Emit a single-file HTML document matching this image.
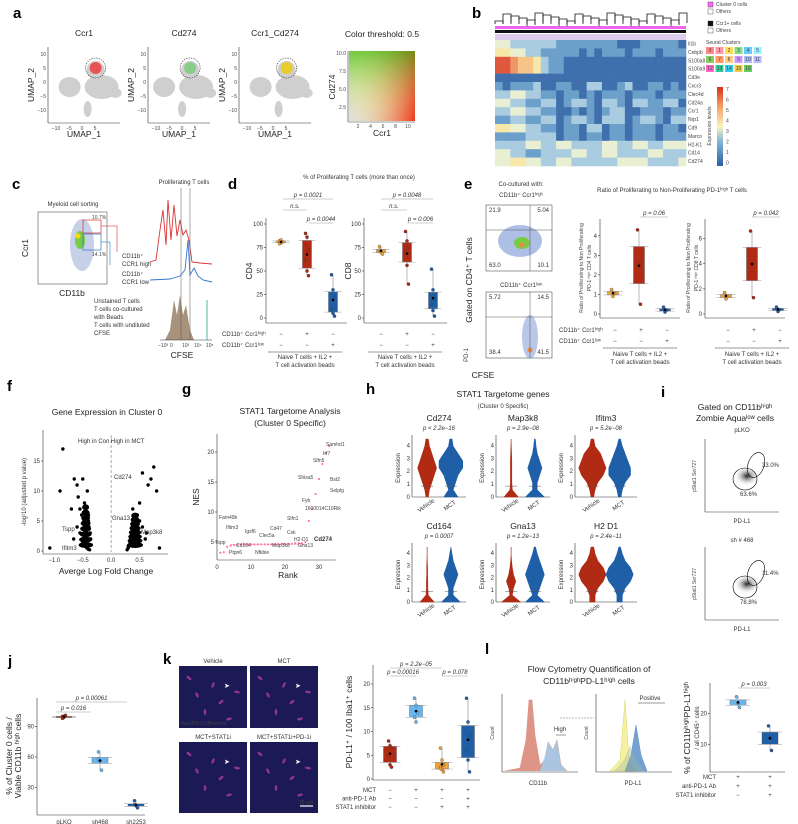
<!DOCTYPE html>
<html><head><meta charset="utf-8"><style>
body{margin:0;background:#fff;}
svg{display:block;font-family:"Liberation Sans",sans-serif;}
.pl{font-size:15px;font-weight:bold;}
.t{font-size:8.5px;fill:#222;}
.s{font-size:6px;fill:#333;}
.xs{font-size:5px;fill:#444;}
</style></head><body>
<svg id="fig" width="798" height="824" viewBox="0 0 798 824" xmlns="http://www.w3.org/2000/svg">
<defs>
<linearGradient id="gg" x1="0" y1="1" x2="1" y2="0"><stop offset="0" stop-color="#ddd"/><stop offset="1" stop-color="#f0e000"/></linearGradient>
<linearGradient id="gx" x1="0" y1="0" x2="1" y2="0"><stop offset="0" stop-color="#fff" stop-opacity="0"/><stop offset="1" stop-color="#e00" stop-opacity="1"/></linearGradient>
<linearGradient id="gy" x1="0" y1="1" x2="0" y2="0"><stop offset="0" stop-color="#fff" stop-opacity="0"/><stop offset="1" stop-color="#2b2" stop-opacity="1"/></linearGradient>
<linearGradient id="cb" x1="0" y1="1" x2="0" y2="0"><stop offset="0" stop-color="#2d5fa8"/><stop offset=".3" stop-color="#7fb3d5"/><stop offset=".5" stop-color="#f7f3c0"/><stop offset=".75" stop-color="#f4a261"/><stop offset="1" stop-color="#d7301f"/></linearGradient>
<radialGradient id="blob"><stop offset="0" stop-color="#222"/><stop offset="1" stop-color="#fff" stop-opacity="0"/></radialGradient>
</defs>
<g id="labels">
<text class="pl" x="13" y="18">a</text><text class="pl" x="472" y="18">b</text>
<text class="pl" x="12" y="189">c</text><text class="pl" x="228" y="189">d</text><text class="pl" x="464" y="189">e</text>
<text class="pl" x="7" y="391">f</text><text class="pl" x="182" y="394">g</text><text class="pl" x="366" y="394">h</text><text class="pl" x="661" y="397">i</text>
<text class="pl" x="8" y="666">j</text><text class="pl" x="163" y="664">k</text><text class="pl" x="485" y="654">l</text>
</g>
<g id="root"></g>
</svg>
<script>
const svg=document.getElementById('root');
const NS='http://www.w3.org/2000/svg';
function mk(tag,attrs,name,parent){const e=document.createElementNS(NS,tag);for(const k in attrs)e.setAttribute(k,attrs[k]);


(parent||svg).appendChild(e);return e;}
function tx(x,y,s,cls,name,extra){const e=mk('text',Object.assign({x:x,y:y,class:cls||'s'},extra||{}),name);e.textContent=s;return e;}
function ln(x1,y1,x2,y2,c,w,name){return mk('line',{x1,y1,x2,y2,stroke:c||'#333','stroke-width':w||0.6},name||'axis-line');}
function lin(d0,d1,r0,r1){return v=>r0+(v-d0)/(d1-d0)*(r1-r0);}

/* ---------- DATA ---------- */
const umapTitles=['Ccr1','Cd274','Ccr1_Cd274'];
const heatGenes=['Il1b','Cebpb','S100a8','S100a9','Cd3e','Cxcr3','Clec4d','Cd24a','Ccr1','Nrp1','Cd9','Marco','H2-K1','Cd14','Cd274'];
const heatRows=['3322222211111111000111110','4433221111101011101110111','7765542110000000000000000','7765542110000000000000000','0000000000000000000000000','1011120011002200120011010','2233221101101011101110111','3322112201221022102211220','2233221100101012200111011','1122112201221022201221022','4433221101102201101110110','1111222201101101101110111','2222332233222233223322333','3322112222332233222233222','3344332233222222333322223'];
const cd4Groups=[[82,80,81,79,83],[90,86,72,62,50,45],[46,30,22,10,5,2]];
const cd8Groups=[[76,70,68,72],[92,82,75,70,56,36],[52,30,20,15,8,2]];
const eCd4Groups=[[1.25,0.9,1.05],[4.3,2.6,0.5],[0.35,0.1,0.2]];
const eCd8Groups=[[1.7,1.2,1.4],[6.6,4.0,1.3],[0.55,0.2,0.35]];
const jGroups=[[100,99,101,98,100],[65,56,47,58],[17,12,10,13]];
const jCats=['pLKO','sh468','sh2253'];
const kGroups=[[8,7,6.5,5,3,2.5],[17,15.5,14,13,12],[6.5,4,3,2.5,2,1.5,2.2],[17,12,9,6,4,1.5]];
const lGroups=[[25.5,23.5,22],[16,12,8]];
const volcX=[-1.08,-0.85,-0.65,-0.6,-0.58,-0.55,-0.52,-0.5,-0.48,-0.47,-0.45,-0.44,-0.42,-0.4,-0.39,-0.38,-0.37,-0.36,-0.35,-0.6,-0.55,-0.5,-0.45,-0.42,-0.4,-0.5,-0.46,-0.43,-0.4,-0.38,-0.9,-0.7,-0.66,0.28,0.3,0.32,0.34,0.35,0.37,0.39,0.4,0.42,0.44,0.46,0.5,0.55,0.6,0.62,0.3,0.33,0.36,0.4,0.45,0.5,0.38,0.42,0.7,0.75,0.8,0.85,0.55,0.65];
const volcY=[0.5,17,12,11,9,7,6,12,5,8,4,3,2,6,4,1,3,2,1,4,3,2,1,10,5,1.5,0.8,0.5,0.3,0.2,10,7,2,0.2,0.5,1,2,3,4,5,2,1,3,6,8,4,2,3,0.8,1.5,2.5,1,4,5,7,2,12,14,10,0.5,13,11];
const gseaRank=[1,2,3,4,5,6,7,8,9,10,11,12,13,14,15,16,17,18,19,20,21,22,23,24,25,26,27,28,29,30,31,32,33];
const gseaNES=[3.2,3.3,4.2,4.4,4.5,4.5,4.6,4.6,4.6,4.6,4.6,4.6,4.6,4.6,4.6,4.6,4.6,4.7,4.7,4.7,4.7,4.7,4.8,4.8,4.8,5,8.5,10.5,13,15.5,18,19.8,21];
const violinNames=['Cd274','Map3k8','Ifitm3','Cd164','Gna13','H2  D1'];
const violinP=['p < 2.2e−16','p = 2.9e−08','p = 5.2e−08','p = 0.0007','p = 1.2e−13','p = 2.4e−11'];
const violinVeh=[[.5,1,2,3,4,3,2,1,.5],[3,.5,.3,.3,.3,.3,.2,.1,0],[.5,1,2,4,5,4,3,1,.5],[3,.5,.3,.3,.2,.2,.1,0,0],[4,.5,1,2,1,.5,.2,0,0],[1,1,2,4,5,4,2,1,.5]];
const violinMct=[[3,1,2,3,5,5,3,1,.5],[4,1,1,2,3,2,1,.5,.2],[.5,1,2,4,4,3,2,1,.3],[4,1,1,2,3,2,1,.5,0],[4,1,2,3,4,3,2,1,.3],[1,1,2,4,5,4,2,1,.3]];

/* ---------- a: UMAP ---------- */
const umapX=[48,148,239];
umapTitles.forEach((t,i)=>{
 const x0=umapX[i],y0=47,w=[72,62,72][i],h=76;
 tx(x0+w/2+(i==1?5:0),36,t,'t','umap-title',{'text-anchor':'middle'});
 ln(x0,y0,x0,y0+h);ln(x0,y0+h,x0+w,y0+h);
 const cx=x0+w*0.55;
 mk('ellipse',{cx:cx-18,cy:y0+40,rx:11,ry:10,fill:'#cfcfcf'},'umap-cluster');
 mk('ellipse',{cx:cx+14,cy:y0+40,rx:17,ry:12,fill:'#cfcfcf'},'umap-cluster');
 mk('ellipse',{cx:cx+8,cy:y0+23,rx:9,ry:9,fill:'#cfcfcf'},'umap-cluster');
 mk('ellipse',{cx:cx+28,cy:y0+46,rx:6,ry:5,fill:'#cfcfcf'},'umap-cluster');
 mk('ellipse',{cx:cx,cy:y0+62,rx:4,ry:8,fill:'#cfcfcf'},'umap-cluster');
 const col=['#e33','#7c7','#ec0'][i];
 mk('circle',{cx:cx+8,cy:y0+21,r:6,fill:col,opacity:.8},'umap-highlight');
 mk('circle',{cx:cx+8,cy:y0+21,r:10,fill:'none',stroke:'#333','stroke-dasharray':'1.5,1','stroke-width':.6},'umap-circle');
 ['−10','−5','0','5'].forEach((v,j)=>tx(x0+8+j*13,y0+h+7,v,'xs','x-tick',{'text-anchor':'middle'}));
 ['10','5','0','−5','−10'].forEach((v,j)=>tx(x0-2,y0+9+j*14,v,'xs','y-tick',{'text-anchor':'end'}));
 tx(x0+w/2,y0+h+14,'UMAP_1','t','x-axis-title',{'text-anchor':'middle'});
 tx(x0-14,y0+h/2,'UMAP_2','t','y-axis-title',{'text-anchor':'middle',transform:`rotate(-90 ${x0-14} ${y0+h/2})`});
});
tx(382,37,'Color threshold: 0.5','t','threshold-title',{'text-anchor':'middle'});
mk('rect',{x:349,y:51,width:66,height:70,fill:'url(#gg)'},'threshold-square');
mk('rect',{x:349,y:51,width:66,height:70,fill:'url(#gx)',opacity:.75},'threshold-red');
mk('rect',{x:349,y:51,width:66,height:70,fill:'url(#gy)',opacity:.6},'threshold-green');
ln(348,51,348,122);ln(348,122,415,122);
tx(382,136,'Ccr1','t','x-axis-title',{'text-anchor':'middle'});
tx(335,87,'Cd274','t','y-axis-title',{'text-anchor':'middle',transform:'rotate(-90 335 87)'});
['2','4','6','8','10'].forEach((v,j)=>tx(358+j*12.5,128,v,'xs','x-tick',{'text-anchor':'middle'}));
['10.0','7.5','5.0','2.5'].forEach((v,j)=>tx(346,55+j*18,v,'xs','y-tick',{'text-anchor':'end'}));

/* ---------- b: heatmap ---------- */
const hcol=['#3f6fad','#6d9fcb','#a9cce0','#e9efd2','#f7e7a8','#f6c487','#ef9666','#e0573e'];
const hx=lin(0,25,495,686),hy=lin(0,heatGenes.length,40,166);
for(let i=0;i<24;i++){mk('path',{d:`M${495+i*8} 24 v-${3+(i*7)%9} h8 v${3+(i*5)%9}`,fill:'none',stroke:'#111','stroke-width':.8},'dendrogram');}
mk('rect',{x:495,y:26,width:191,height:3,fill:'#e6e'},'cluster-bar');
mk('rect',{x:495,y:30,width:191,height:3,fill:'#111'},'ccr1-bar');
mk('rect',{x:495,y:34,width:191,height:6,fill:'#dce'},'seurat-bar');
heatRows.forEach((row,r)=>{row.split('').forEach((c,j)=>{
 mk('rect',{x:hx(j),y:hy(r),width:hx(1)-hx(0)+.3,height:hy(1)-hy(0)+.3,fill:hcol[+c]},'heatmap-cell');});
 tx(688,hy(r)+5.5,heatGenes[r],'xs','gene-label');});
[['#f6f','Cluster 0 cells',6],['#fff','Others',13],['#111','Ccr1+ cells',25],['#fff','Others',32]].forEach(a=>{
 mk('rect',{x:708,y:a[2]-4,width:5,height:5,fill:a[0],stroke:'#333','stroke-width':.4},'legend-swatch');tx(716,a[2],a[1],'xs','legend-entry');});
tx(706,44,'Seurat Clusters','xs','legend-title');
const sc=['#f88','#f9a','#fd5','#8d8','#6cf','#9ef','#8c6','#f96','#fc8','#c9f','#abf','#bbf','#f6c','#3c9','#3ce','#ec4','#6c6'];
for(let i=0;i<17;i++){mk('rect',{x:706+(i%6)*9.5,y:47+Math.floor(i/6)*9,width:8,height:7,fill:sc[i]},'cluster-swatch');tx(710+(i%6)*9.5,52+Math.floor(i/6)*9,String(i),'xs','cluster-id',{'text-anchor':'middle','font-size':4});}
mk('rect',{x:717,y:87,width:6,height:79,fill:'url(#cb)'},'colorbar');
['7','6','5','4','3','2','1','0'].forEach((v,j)=>tx(726,91+j*10.5,v,'xs','colorbar-tick'));
tx(711,126,'Expression levels','xs','colorbar-title',{'text-anchor':'middle',transform:'rotate(-90 711 126)'});

/* ---------- box plot helper ---------- */
const fills=['#f2a33a','#b02a14','#1e5fa8','#6ab7f0'];
function q(a,p){const s=[...a].sort((x,y)=>x-y),i=(s.length-1)*p,l=Math.floor(i);return s[l]+(s[Math.min(l+1,s.length-1)]-s[l])*(i-l);}
function box(vals,cx,ys,col,w,name){
 const lo=Math.min(...vals),hi=Math.max(...vals),q1=q(vals,.25),q3=q(vals,.75),md=q(vals,.5),mean=vals.reduce((a,b)=>a+b)/vals.length;
 ln(cx,ys(lo),cx,ys(hi),'#888',.6,name+'-whisker');
 mk('rect',{x:cx-w/2,y:ys(q3),width:w,height:Math.max(ys(q1)-ys(q3),1.5),fill:col,stroke:'#555','stroke-width':.4},name+'-box');
 ln(cx-w/2-4,ys(q3),cx+w/2+4,ys(q3),'#999',.5,name+'-ci');ln(cx-w/2-4,ys(q1),cx+w/2+4,ys(q1),'#999',.5,name+'-ci');
 vals.forEach((v,i)=>mk('circle',{cx:cx+((i%3)-1)*1.5,cy:ys(v),r:1.6,fill:col,stroke:'#333','stroke-width':.3},name+'-point'));
 mk('circle',{cx:cx,cy:ys(mean),r:1.3,fill:'#000'},name+'-mean');}
function axes(x0,y0,x1,y1,ticks,ys,fmt){ln(x0,y1,x0,y0);ln(x0,y0,x1,y0);
 ticks.forEach(t=>{ln(x0-2,ys(t),x0,ys(t));tx(x0-3,ys(t)+2,fmt?fmt(t):String(t),'s','y-tick',{'text-anchor':'end'});});}
function pbar(x1,x2,y,label){ln(x1,y,x2,y,'#999',.6,'p-bracket');tx((x1+x2)/2,y-2,label,'s','p-value',{'text-anchor':'middle','font-style':'italic'});}

/* ---------- c ---------- */
tx(73,206,'Myeloid cell sorting','s','c-title',{'text-anchor':'middle'});
mk('rect',{x:38,y:212,width:69,height:72,fill:'none',stroke:'#333','stroke-width':.5},'flow-plot');
mk('ellipse',{cx:82,cy:245,rx:12,ry:26,fill:'#b8c4e0',opacity:.8},'flow-density');
mk('ellipse',{cx:80,cy:240,rx:5,ry:9,fill:'#7c4'},'flow-core');
mk('circle',{cx:78,cy:236,r:2.5,fill:'#fd0'},'flow-peak');
mk('rect',{x:83,y:220,width:18,height:13,fill:'none',stroke:'#d33','stroke-width':.7},'gate-high');
mk('rect',{x:83,y:234,width:18,height:16,fill:'none',stroke:'#37c','stroke-width':.7},'gate-low');
tx(92,219,'10.7%','xs','gate-high-pct',{fill:'#d33'});tx(92,256,'14.1%','xs','gate-low-pct',{fill:'#37c'});
tx(72,296,'CD11b','t','x-axis-title',{'text-anchor':'middle'});tx(28,248,'Ccr1','t','y-axis-title',{'text-anchor':'middle',transform:'rotate(-90 28 248)'});
ln(101,226,117,226,'#d33',.6,'connector');ln(117,226,117,252,'#d33',.6,'connector');ln(101,242,110,242,'#37c',.6,'connector');ln(110,242,110,265,'#37c',.6,'connector');
tx(122,258,'CD11b⁺','s','label-high',{fill:'#c22'});tx(122,266,'CCR1 high','s','label-high',{fill:'#c22','font-size':7});
tx(122,276,'CD11b⁺','s','label-low',{fill:'#37c'});tx(122,284,'CCR1 low','s','label-low',{fill:'#37c','font-size':7});
tx(184,184,'Proliferating T cells','s','prolif-title',{'text-anchor':'middle'});
mk('path',{d:'M150 262 L156 260 L160 230 L163 210 L166 245 L168 200 L171 240 L174 205 L177 236 L180 220 L183 235 L186 230 L189 240 L192 262 L200 263 L212 264',fill:'none',stroke:'#d33','stroke-width':.9},'hist-red');
mk('path',{d:'M150 280 L170 279 L180 276 L185 270 L188 240 L190 275 L194 268 L198 276 L203 280 L212 282',fill:'none',stroke:'#37c','stroke-width':.9},'hist-blue');
mk('path',{d:'M165 340 L170 330 L174 300 L177 315 L180 295 L183 315 L186 305 L190 330 L194 340 Z',fill:'#a8927c'},'hist-beige');
ln(207,300,207,340,'#2a8',.8,'hist-green');ln(181,188,181,340,'#555',.5,'gate-line');ln(190,188,190,340,'#555',.5,'gate-line');ln(160,340,212,340);
tx(94,303,'Unstained T cells','s','legend-unstained',{fill:'#888'});
tx(94,311,'T cells co-cultured','s','legend-cocultured',{fill:'#a8927c'});tx(94,319,'with Beads','s','legend-cocultured',{fill:'#a8927c'});
tx(94,327,'T cells with undiluted','s','legend-undiluted',{fill:'#2a8'});tx(94,335,'CFSE','s','legend-undiluted',{fill:'#2a8'});
['−10³','0','10³','10⁴','10⁵'].forEach((v,j)=>tx(158+j*12,347,v,'xs','x-tick'));
tx(182,358,'CFSE','t','x-axis-title',{'text-anchor':'middle'});

/* ---------- d ---------- */
tx(359,179,'% of Proliferating T cells (more than once)','s','d-title',{'text-anchor':'middle','font-size':7});
const ysd=lin(0,100,318,224);
axes(266,323,347,218,[0,25,50,75,100],ysd);
cd4Groups.forEach((g,i)=>box(g,281+i*26,ysd,fills[i],9,'cd4-group'));
tx(252,271,'CD4','t','y-axis-title',{'text-anchor':'middle',transform:'rotate(-90 252 271)'});
pbar(283,333,199,'p = 0.0021');pbar(283,307,210,'n.s.');pbar(309,333,223,'p = 0.0044');
axes(364,323,447,218,[0,25,50,75,100],ysd);
cd8Groups.forEach((g,i)=>box(g,381+i*26,ysd,fills[i],9,'cd8-group'));
tx(351,271,'CD8','t','y-axis-title',{'text-anchor':'middle',transform:'rotate(-90 351 271)'});
pbar(381,433,199,'p = 0.0048');pbar(381,407,210,'n.s.');pbar(408,433,223,'p = 0.006');
tx(222,336,'CD11b⁺ Ccr1ʰⁱᵍʰ','s','cond-row-high');tx(222,347,'CD11b⁺ Ccr1ˡᵒʷ','s','cond-row-low');
[['−','+','−'],['−','−','+']].forEach((r,ri)=>r.forEach((s,i)=>{tx(281+i*26,336+ri*11,s,'s','cond-sign',{'text-anchor':'middle'});tx(381+i*26,336+ri*11,s,'s','cond-sign',{'text-anchor':'middle'});}));
[305,405].forEach(c=>{ln(c-37,352,c+37,352,'#333',.5,'cond-line');tx(c,359,'Naive T cells + IL2 +','s','cond-text',{'text-anchor':'middle'});tx(c,367,'T cell activation beads','s','cond-text',{'text-anchor':'middle'});});

/* ---------- e ---------- */
tx(521,186,'Co-cultured with:','s','e-subtitle',{'text-anchor':'middle','font-size':6.5});
tx(521,197,'CD11b⁺ Ccr1ʰⁱᵍʰ','s','e-high-label',{'text-anchor':'middle',fill:'#d33','font-size':6.5});
tx(521,287,'CD11b⁺ Ccr1ˡᵒʷ','s','e-low-label',{'text-anchor':'middle',fill:'#37c','font-size':6.5});
[[205,'21.9','5.04','63.0','10.1',1],[292,'5.72','14.5','38.4','41.5',0]].forEach(p=>{const y=p[0];
 mk('rect',{x:486,y:y,width:66,height:66,fill:'none',stroke:'#333','stroke-width':.5},'flow-plot');
 if(p[5]){mk('ellipse',{cx:520,cy:y+36,rx:22,ry:16,fill:'#8aa4d8',opacity:.7},'flow-density');mk('ellipse',{cx:522,cy:y+38,rx:8,ry:6,fill:'#7c4'},'flow-core');mk('circle',{cx:522,cy:y+40,r:2.5,fill:'#e84'},'flow-peak');}
 else{mk('ellipse',{cx:530,cy:y+45,rx:8,ry:22,fill:'#8aa4d8',opacity:.6},'flow-density');mk('circle',{cx:530,cy:y+58,r:2.5,fill:'#e84'},'flow-peak');}
 ln(486,y+25,552,y+25,'#555',.5,'quadrant-line');ln(530,y,530,y+66,'#555',.5,'quadrant-line');
 tx(489,y+7,p[1],'s','quadrant-pct');tx(549,y+7,p[2],'s','quadrant-pct',{'text-anchor':'end'});tx(489,y+62,p[3],'s','quadrant-pct');tx(549,y+62,p[4],'s','quadrant-pct',{'text-anchor':'end'});});
tx(472,280,'Gated on CD4⁺ T cells','t','e-gated-label',{'text-anchor':'middle',transform:'rotate(-90 472 280)'});
tx(468,355,'PD-1','s','y-axis-title',{'text-anchor':'middle',transform:'rotate(-90 468 355)'});
tx(483,378,'CFSE','t','x-axis-title',{'text-anchor':'middle'});
tx(672,192,'Ratio of Proliferating to Non-Proliferating PD-1ʰⁱᵍʰ T cells','s','e-title',{'text-anchor':'middle','font-size':7});
const yse1=lin(0,4.5,314,226),yse2=lin(0,7,314,226);
axes(600,318,680,219,[0,1,2,3,4],yse1);axes(705,318,785,219,[0,2,4,6],yse2);
eCd4Groups.forEach((g,i)=>box(g,613+i*26,yse1,fills[i],11,'ecd4-group'));
eCd8Groups.forEach((g,i)=>box(g,726+i*26,yse2,fills[i],11,'ecd8-group'));
pbar(640,668,217,'p = 0.06');pbar(752,780,217,'p = 0.042');
tx(583,268,'Ratio of Proliferating to Non Proliferating','xs','y-axis-title',{'text-anchor':'middle',transform:'rotate(-90 583 268)'});
tx(591,268,'PD-1 ʰⁱᵍʰ CD4 T cells','xs','y-axis-title',{'text-anchor':'middle',transform:'rotate(-90 591 268)'});
tx(690,268,'Ratio of Proliferating to Non Proliferating','xs','y-axis-title',{'text-anchor':'middle',transform:'rotate(-90 690 268)'});
tx(698,268,'PD-1 ʰⁱᵍʰ CD8 T cells','xs','y-axis-title',{'text-anchor':'middle',transform:'rotate(-90 698 268)'});
tx(559,332,'CD11b⁺ Ccr1ʰⁱᵍʰ','s','cond-row-high');tx(559,343,'CD11b⁺ Ccr1ˡᵒʷ','s','cond-row-low');
[['−','+','−'],['−','−','+']].forEach((r,ri)=>r.forEach((s,i)=>{tx(615+i*26,332+ri*11,s,'s','cond-sign',{'text-anchor':'middle'});tx(728+i*26,332+ri*11,s,'s','cond-sign',{'text-anchor':'middle'});}));
[640,752].forEach(c=>{ln(c-37,348,c+37,348,'#333',.5,'cond-line');tx(c,356,'Naive T cells + IL2 +','s','cond-text',{'text-anchor':'middle'});tx(c,364,'T cell activation beads','s','cond-text',{'text-anchor':'middle'});});

/* ---------- f ---------- */
tx(107,415,'Gene Expression in Cluster 0','t','f-title',{'text-anchor':'middle'});
const fx=lin(-1.2,1,43,168),fy=lin(0,20,551,431);
axes(43,554,168,430,[0,5,10,15],fy);
[-1,-0.5,0,0.5].forEach(v=>tx(fx(v),562,v.toFixed(1).replace('-','−'),'s','x-tick',{'text-anchor':'middle'}));
ln(fx(0),435,fx(0),552,'#999',.8,'zero-line').setAttribute('stroke-dasharray','3,2');
tx(fx(0),443,'High in Con High in MCT','s','f-direction',{'text-anchor':'middle','font-size':6.5});
volcX.forEach((x,i)=>mk('circle',{cx:fx(x),cy:fy(volcY[i]),r:1.7,fill:'#000'},'volcano-point'));
for(let i=0;i<8;i++){mk('ellipse',{cx:fx(-0.45),cy:fy(1+i*0.9),rx:7-i*.5,ry:3,fill:'#000'},'volcano-dense');mk('ellipse',{cx:fx(0.42),cy:fy(1+i*0.7),rx:8-i*.6,ry:3,fill:'#000'},'volcano-dense');}
tx(114,479,'Cd274','s','gene-cd274',{fill:'#e33','font-size':7});tx(112,520,'Gna13','s','gene-gna13',{fill:'#e33','font-size':7});tx(141,534,'Map3k8','s','gene-map3k8',{fill:'#e33','font-size':7});
tx(62,531,'Tspp','s','gene-tspp',{fill:'#66b','font-size':7});tx(62,550,'Ifitm3','s','gene-ifitm3',{fill:'#66b','font-size':7});
tx(106,574,'Averge Log Fold Change','t','x-axis-title',{'text-anchor':'middle'});
tx(26,492,'-log\u00b910 (adjusted  p value)','s','y-axis-title',{'text-anchor':'middle',transform:'rotate(-90 26 492)','font-size':7});

/* ---------- g ---------- */
tx(290,414,'STAT1 Targetome Analysis','t','g-title',{'text-anchor':'middle'});tx(290,426,'(Cluster 0 Specific)','t','g-title',{'text-anchor':'middle'});
const gx=lin(0,35,217,336),gy=lin(2,23,560,434);
axes(217,560,336,434,[5,10,15,20],gy);
[0,10,20,30].forEach(v=>tx(gx(v),569,String(v),'s','x-tick',{'text-anchor':'middle'}));
gseaRank.forEach((r,i)=>mk('circle',{cx:gx(r),cy:gy(gseaNES[i]),r:1.1,fill:'#f7a'},'gsea-point'));
ln(gx(4),gy(4.6),gx(26),gy(4.6),'#f7a',.6,'gsea-dashed').setAttribute('stroke-dasharray','2,1');
tx(288,578,'Rank','t','x-axis-title',{'text-anchor':'middle'});tx(199,497,'NES','t','y-axis-title',{'text-anchor':'middle',transform:'rotate(-90 199 497)'});
[['Samhd1',326,446],['Irf7',323,455],['Slfn5',313,462],['Shisa5',298,479],['Bst2',330,481],['Selplg',330,492],['Fyb',302,502],['1600014C10Rik',305,510],['Slfn1',287,520],['Fam49b',219,519],['Ifitm3',226,529],['Igsf6',245,533],['Cd47',270,530],['Clec5a',259,537],['Csk',287,534],['H2-D1',294,541],['Cd164',236,547],['Map3k8',272,547],['Gna13',298,547],['Tspp',215,544],['Ptpn6',229,554],['Nfkbie',255,554]].forEach(a=>tx(a[1],a[2],a[0],'xs','gsea-gene',{'font-size':5.5}));
tx(314,541,'Cd274','s','gsea-cd274',{'font-weight':'bold'});

/* ---------- h ---------- */
tx(503,397,'STAT1 Targetome genes','t','h-title',{'text-anchor':'middle'});tx(503,408,'(Cluster 0 Specific)','s','h-subtitle',{'text-anchor':'middle','font-size':6.5});
const vx=[412,496,575],vy=[[439,497],[547,602]];
violinNames.forEach((n,i)=>{const x0=vx[i%3],r=Math.floor(i/3),y0=vy[r][0],y1=vy[r][1],w=i%3==2?62:54;
 tx(x0+w/2,y0-18,n,'t','violin-gene',{'text-anchor':'middle'});tx(x0+w/2,y0-9,violinP[i],'s','violin-p',{'text-anchor':'middle','font-style':'italic'});
 ln(x0,y0-4,x0,y1);ln(x0,y1,x0+w,y1);
 [0,1,2,3,4].forEach(t=>tx(x0-2,y1-t*(y1-y0)/4.5+2,String(t),'s','y-tick',{'text-anchor':'end'}));
 tx(x0-12,(y0+y1)/2,'Expression','s','y-axis-title',{'text-anchor':'middle',transform:`rotate(-90 ${x0-12} ${(y0+y1)/2})`,'font-size':7});
 [[violinVeh[i],'#b02a14',x0+w*.28,'Vehicle'],[violinMct[i],'#1e5fa8',x0+w*.72,'MCT']].forEach(v=>{
  const dens=v[0],cx=v[2],n2=dens.length,yy=k=>y1-k*(y1-y0)/(n2-1),sc2=w*.22/5;
  let d=`M${cx} ${yy(0)}`;dens.forEach((dv,k)=>d+=` L${cx+dv*sc2} ${yy(k)}`);for(let k=n2-1;k>=0;k--)d+=` L${cx-dens[k]*sc2} ${yy(k)}`;
  mk('path',{d:d+'Z',fill:v[1],stroke:v[1],'stroke-width':.5},'violin');
  ln(cx-6,yy(1.5),cx+6,yy(1.5),'#555',.5,'violin-median');
  tx(cx,y1+10,v[3],'s','x-tick',{'text-anchor':'middle',transform:`rotate(-35 ${cx} ${y1+10})`,'font-size':7});});
});

/* ---------- i ---------- */
tx(735,410,'Gated on CD11bʰⁱᵍʰ','t','i-title',{'text-anchor':'middle'});tx(735,421,'Zombie Aquaˡᵒʷ cells','t','i-title',{'text-anchor':'middle'});
tx(742,432,'pLKO','s','i-plko',{'text-anchor':'middle'});tx(742,542,'sh # 468','s','i-sh468',{'text-anchor':'middle'});
[[439,'33.0%','63.6%'],[547,'11.4%','78.8%']].forEach(p=>{const y=p[0];
 ln(705,y,705,y+73);ln(705,y+73,779,y+73);
 mk('ellipse',{cx:747,cy:y+37,rx:13,ry:10,fill:'url(#blob)'},'flow-density');
 mk('ellipse',{cx:745,cy:y+40,rx:12,ry:11,fill:'none',stroke:'#000','stroke-width':.6},'gate');
 mk('ellipse',{cx:756,cy:y+26,rx:8,ry:13,fill:'none',stroke:'#000','stroke-width':.6,transform:`rotate(20 756 ${y+26})`},'gate');
 tx(762,y+28,p[1],'s','gate-pct');tx(740,y+57,p[2],'s','gate-pct');
 tx(742,y+84,'PD-L1','s','x-axis-title',{'text-anchor':'middle'});
 tx(696,y+37,'pStat1 Ser727','xs','y-axis-title',{'text-anchor':'middle',transform:`rotate(-90 696 ${y+37})`});});

/* ---------- j ---------- */
const jy=lin(0,118,818,698);
axes(37,815,145,698,[30,60,90],jy);
jGroups.forEach((g,i)=>box(g,64+i*36,jy,['#b02a14','#6ab7f0','#1e5fa8'][i],16,'j-group'));
jCats.forEach((c,i)=>tx(64+i*36,824,c,'s','x-tick',{'text-anchor':'middle','font-size':6.5}));
pbar(56,91,712,'p = 0.016');pbar(56,127,702,'p = 0.00061');
tx(12,756,'% of Cluster 0 cells /','t','y-axis-title',{'text-anchor':'middle',transform:'rotate(-90 12 756)'});
tx(21,756,'Viable CD11b ʰⁱᵍʰ cells','t','y-axis-title',{'text-anchor':'middle',transform:'rotate(-90 21 756)'});

/* ---------- k ---------- */
[['Vehicle',179,666,62],['MCT',250,666,62],['MCT+STAT1i',179,742,71],['MCT+STAT1i+PD-1i',250,742,71]].forEach(p=>{
 tx(p[1]+34,p[2]-3,p[0],'s','k-image-title',{'text-anchor':'middle','font-size':6.5});
 mk('rect',{x:p[1],y:p[2],width:68,height:p[3],fill:'#1c1a55'},'k-image');
 for(let i=0;i<7;i++)mk('ellipse',{cx:p[1]+10+i*8,cy:p[2]+12+(i*17)%44,rx:3,ry:1.3,fill:'#b33aa8',opacity:.8,transform:`rotate(${40+i*25} ${p[1]+10+i*8} ${p[2]+12+(i*17)%44})`},'k-cell');
 mk('text',{x:p[1]+45,y:p[2]+22,fill:'#fff','font-size':7},'k-arrow').textContent='➤';});
tx(181,725,'Iba1/PD-L1/Hoechst','xs','k-stain-legend',{fill:'#e8e','font-size':5.5});
ln(300,806,313,806,'#fff',1.2,'scale-bar');tx(306,804,'25 μm','xs','scale-label',{fill:'#fff','text-anchor':'middle','font-size':4});
const ky=lin(0,24,779,665);
axes(373,780,480,665,[0,5,10,15,20],ky);
kGroups.forEach((g,i)=>box(g,390+i*26,ky,['#b02a14','#6ab7f0','#f2a33a','#1e5fa8'][i],13,'k-group'));
pbar(390,416,676,'p = 0.00016');pbar(390,442,668,'p = 2.2e−05');pbar(442,468,676,'p = 0.078');
tx(352,722,'PD-L1⁺ / 100 Iba1⁺ cells','t','y-axis-title',{'text-anchor':'middle',transform:'rotate(-90 352 722)'});
[['MCT',['−','+','+','+']],['anti-PD-1 Ab',['−','−','−','+']],['STAT1 inhibitor',['−','−','+','+']]].forEach((r,ri)=>{
 tx(376,792+ri*8.5,r[0],'s','k-cond-label',{'text-anchor':'end','font-size':6.5});r[1].forEach((s,i)=>tx(390+i*26,792+ri*8.5,s,'s','cond-sign',{'text-anchor':'middle'}));});

/* ---------- l ---------- */
tx(589,672,'Flow Cytometry Quantification of','t','l-title',{'text-anchor':'middle'});tx(589,684,'CD11bʰⁱᵍʰPD-L1ʰⁱᵍʰ cells','t','l-title',{'text-anchor':'middle'});
ln(502,694,502,772);ln(502,772,578,772);ln(596,694,596,772);ln(596,772,672,772);
mk('path',{d:'M505 771 L520 768 L526 740 L529 700 L532 700 L535 735 L540 765 L545 760 L548 742 L553 750 L557 740 L561 765 L567 771',fill:'#c9503a',opacity:.6,stroke:'#c9503a','stroke-width':.6},'hist-cd11b');
mk('path',{d:'M540 771 L545 755 L548 742 L553 750 L557 740 L561 765 L567 771 Z',fill:'#9dd0f5',opacity:.8},'hist-cd11b-high');
tx(560,731,'High','s','high-label',{'text-anchor':'middle'});ln(556,735,566,735,'#333',.5,'gate-line');
mk('path',{d:'M560 718 L594 718',stroke:'#777','stroke-dasharray':'2,1','stroke-width':.6,fill:'none'},'arrow-connector');
mk('path',{d:'M610 771 L620 760 L625 700 L629 760 L635 771 Z',fill:'#f2f08a',opacity:.8,stroke:'#cc4','stroke-width':.5},'hist-pdl1-yellow');
mk('path',{d:'M625 771 L631 755 L636 725 L641 755 L647 771 Z',fill:'#3a78c0',opacity:.7,stroke:'#1e5fa8','stroke-width':.5},'hist-pdl1-blue');
mk('path',{d:'M614 771 L624 760 L630 745 L636 760 L644 771 Z',fill:'#a0b8a0',opacity:.4},'hist-pdl1-overlap');
tx(650,700,'Positive','s','positive-label',{'text-anchor':'middle'});ln(638,703,665,703,'#333',.5,'gate-line');
tx(538,785,'CD11b','s','x-axis-title',{'text-anchor':'middle'});tx(633,785,'PD-L1','s','x-axis-title',{'text-anchor':'middle'});
tx(494,733,'Count','xs','y-axis-title',{'text-anchor':'middle',transform:'rotate(-90 494 733)'});tx(588,733,'Count','xs','y-axis-title',{'text-anchor':'middle',transform:'rotate(-90 588 733)'});
const ly=lin(0,30,775,683);
axes(710,772,785,683,[10,20],ly);
lGroups.forEach((g,i)=>box(g,738+i*32,ly,['#6ab7f0','#1e5fa8'][i],16,'l-group'));
pbar(738,770,688,'p = 0.003');
tx(690,728,'% of CD11bʰⁱᵍʰPD-L1ʰⁱᵍʰ','t','y-axis-title',{'text-anchor':'middle',transform:'rotate(-90 690 728)'});
tx(699,728,'/ all CD45⁺ cells','s','y-axis-title',{'text-anchor':'middle',transform:'rotate(-90 699 728)','font-size':7});
[['MCT',['+','+']],['anti-PD-1 Ab',['+','+']],['STAT1 inhibitor',['−','+']]].forEach((r,ri)=>{
 tx(716,779+ri*9,r[0],'s','l-cond-label',{'text-anchor':'end','font-size':7});r[1].forEach((s,i)=>tx(738+i*32,779+ri*9,s,'s','cond-sign',{'text-anchor':'middle'}));});
</script>
</body></html>
